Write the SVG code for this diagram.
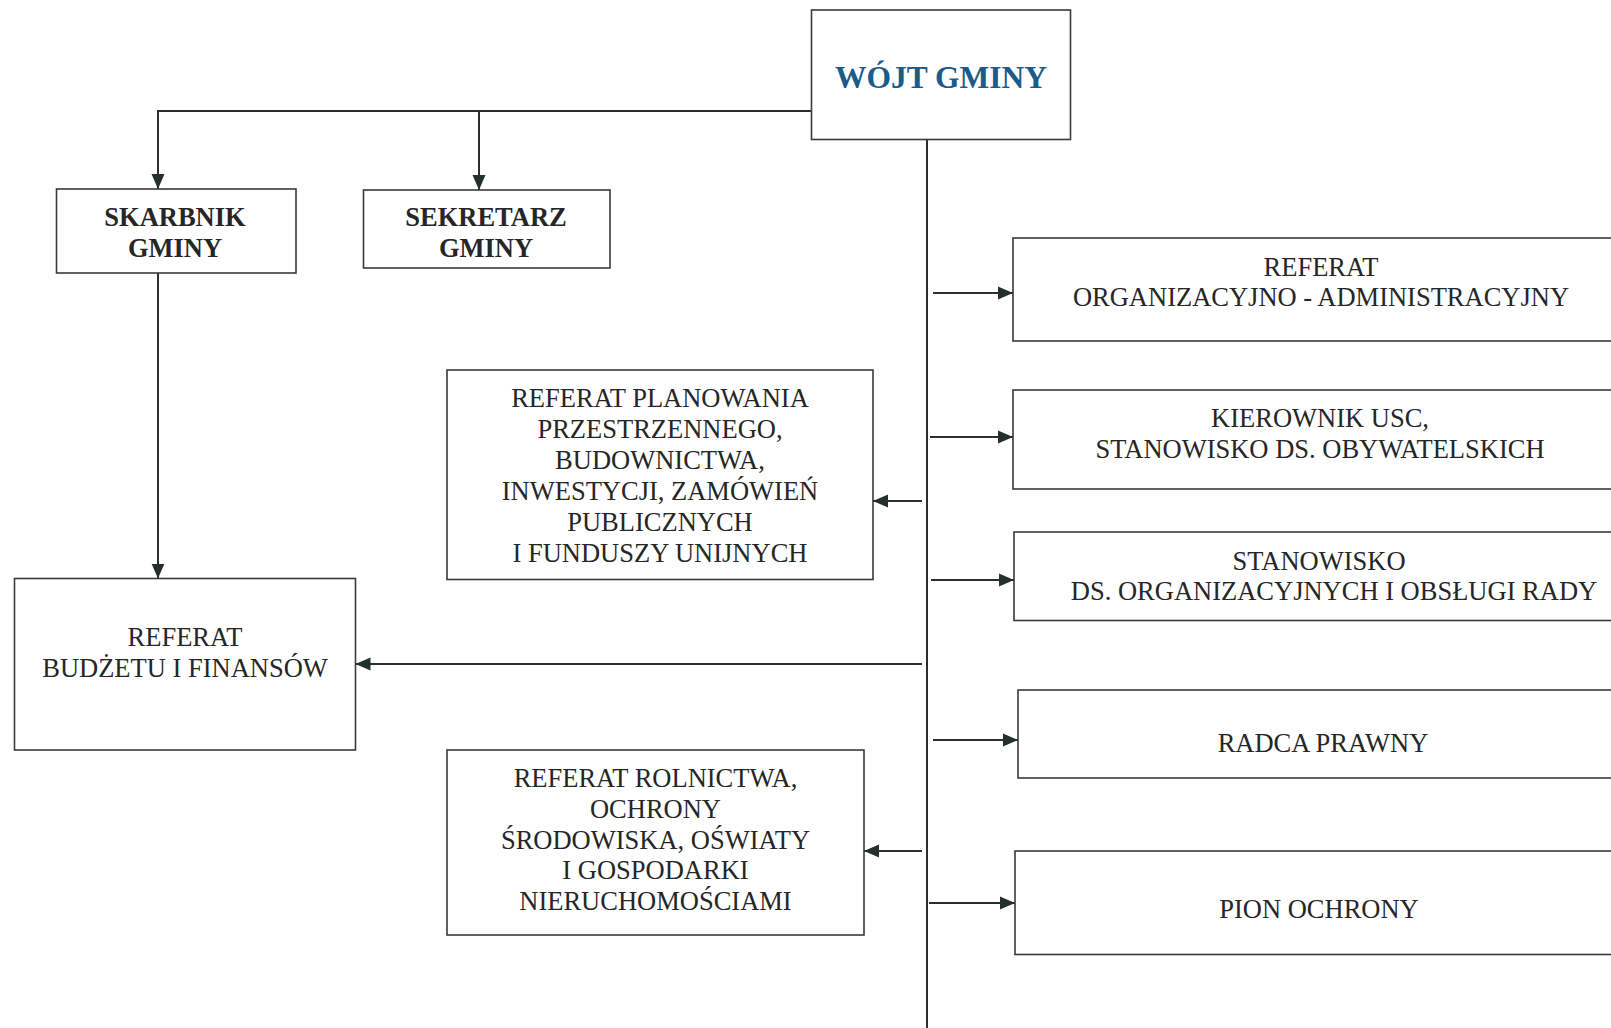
<svg xmlns="http://www.w3.org/2000/svg" width="1611" height="1028" viewBox="0 0 1611 1028">
<style>
.box{fill:#fff;stroke:#3a3a3a;stroke-width:1.6}
.t{font-family:"Liberation Serif","Times New Roman",serif;font-size:26.5px;fill:#262626;text-anchor:middle}
.b{font-weight:bold}
.title{font-family:"Liberation Serif","Times New Roman",serif;font-size:31.5px;font-weight:bold;fill:#1c5a8c;text-anchor:middle}
.ln{stroke:#2b2f2e;stroke-width:2;fill:none}
.ar{marker-end:url(#ah)}
</style>
<defs>
<marker id="ah" markerUnits="userSpaceOnUse" markerWidth="16" markerHeight="14" refX="15" refY="7" orient="auto">
<path d="M0,0.5 L15,7 L0,13.5 z" fill="#23302c"/>
</marker>
</defs>
<rect width="1611" height="1028" fill="#fff"/>
<g id="connectors">
<line class="ln" x1="811.5" y1="111" x2="157" y2="111"/>
<line class="ln ar" x1="158" y1="111" x2="158" y2="189"/>
<line class="ln ar" x1="479" y1="111" x2="479" y2="190"/>
<line class="ln ar" x1="158" y1="273" x2="158" y2="578.5"/>
<line class="ln" x1="927" y1="139.5" x2="927" y2="1028"/>
<line class="ln ar" x1="933" y1="293" x2="1013" y2="293"/>
<line class="ln ar" x1="930" y1="437" x2="1013" y2="437"/>
<line class="ln ar" x1="931" y1="580" x2="1014" y2="580"/>
<line class="ln ar" x1="933" y1="740" x2="1018" y2="740"/>
<line class="ln ar" x1="929" y1="903" x2="1015" y2="903"/>
<line class="ln ar" x1="922" y1="501" x2="873" y2="501"/>
<line class="ln ar" x1="922" y1="664" x2="355.5" y2="664"/>
<line class="ln ar" x1="922" y1="851" x2="864" y2="851"/>
</g>
<g id="wojt">
<rect class="box" x="811.5" y="10" width="259" height="129.5"/>
<text class="title" x="941" y="88">WÓJT GMINY</text>
</g>
<g id="skarbnik">
<rect class="box" x="56.5" y="189" width="239.5" height="84"/>
<text class="t b" x="175" y="226">SKARBNIK</text>
<text class="t b" x="175" y="256.5">GMINY</text>
</g>
<g id="sekretarz">
<rect class="box" x="363.5" y="190" width="246.5" height="78"/>
<text class="t b" x="486" y="226">SEKRETARZ</text>
<text class="t b" x="486" y="256.5">GMINY</text>
</g>
<g id="budzet">
<rect class="box" x="14.5" y="578.5" width="341" height="171.5"/>
<text class="t" x="185" y="646">REFERAT</text>
<text class="t" x="185" y="677">BUDŻETU I FINANSÓW</text>
</g>
<g id="planowania">
<rect class="box" x="447" y="370" width="426" height="209.5"/>
<text class="t" x="660" y="406.5">REFERAT PLANOWANIA</text>
<text class="t" x="660" y="437.5">PRZESTRZENNEGO,</text>
<text class="t" x="660" y="468.5">BUDOWNICTWA,</text>
<text class="t" x="660" y="499.5">INWESTYCJI, ZAMÓWIEŃ</text>
<text class="t" x="660" y="530.5">PUBLICZNYCH</text>
<text class="t" x="660" y="561.5">I FUNDUSZY UNIJNYCH</text>
</g>
<g id="rolnictwa">
<rect class="box" x="447" y="750" width="417" height="185"/>
<text class="t" x="655.5" y="786.5">REFERAT ROLNICTWA,</text>
<text class="t" x="655.5" y="817.5">OCHRONY</text>
<text class="t" x="655.5" y="848.5">ŚRODOWISKA, OŚWIATY</text>
<text class="t" x="655.5" y="879">I GOSPODARKI</text>
<text class="t" x="655.5" y="910">NIERUCHOMOŚCIAMI</text>
</g>
<g id="orgadm">
<rect class="box" x="1013" y="238" width="610" height="103"/>
<text class="t" x="1321" y="276">REFERAT</text>
<text class="t" x="1321" y="306">ORGANIZACYJNO - ADMINISTRACYJNY</text>
</g>
<g id="kierownik">
<rect class="box" x="1013" y="390" width="610" height="99"/>
<text class="t" x="1320" y="427">KIEROWNIK USC,</text>
<text class="t" x="1320" y="458">STANOWISKO DS. OBYWATELSKICH</text>
</g>
<g id="stanowisko">
<rect class="box" x="1014" y="532" width="610" height="88.5"/>
<text class="t" x="1319" y="570">STANOWISKO</text>
<text class="t" x="1334" y="600">DS. ORGANIZACYJNYCH I OBSŁUGI RADY</text>
</g>
<g id="radca">
<rect class="box" x="1018" y="690" width="610" height="88"/>
<text class="t" x="1323" y="752">RADCA PRAWNY</text>
</g>
<g id="pion">
<rect class="box" x="1015" y="851" width="610" height="103.5"/>
<text class="t" x="1319" y="918">PION OCHRONY</text>
</g>
</svg>
